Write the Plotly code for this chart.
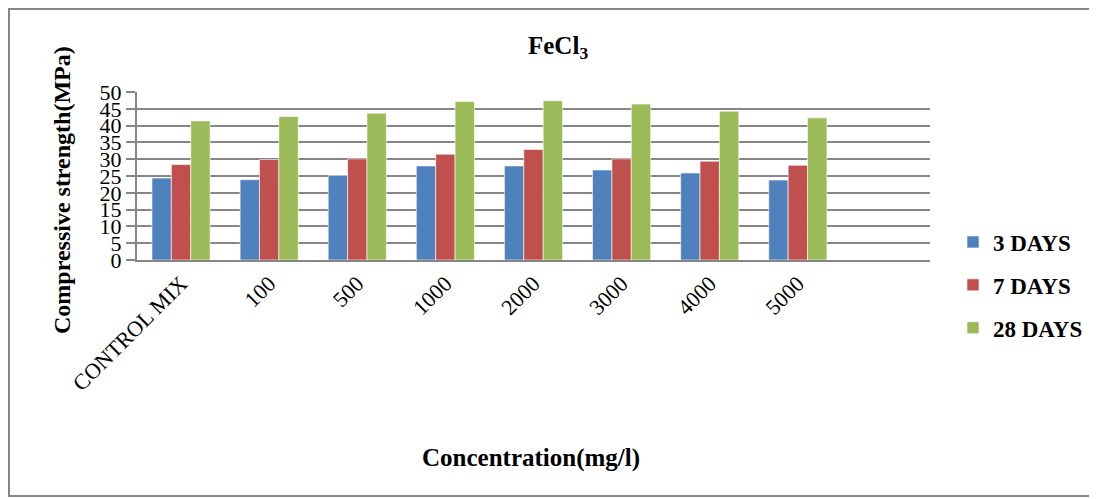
import plotly.graph_objects as go

categories = ["CONTROL MIX", "100", "500", "1000", "2000", "3000", "4000", "5000"]
days_3 = [24.4, 23.9, 25.2, 28.0, 28.0, 26.8, 25.9, 23.8]
days_7 = [28.4, 29.9, 30.1, 31.5, 32.9, 30.1, 29.4, 28.2]
days_28 = [41.4, 42.7, 43.7, 47.2, 47.4, 46.4, 44.3, 42.3]
series_names = ["3 DAYS", "7 DAYS", "28 DAYS"]
colors = ["#4F81BD", "#C0504D", "#9BBB59"]
y_ticks = [0, 5, 10, 15, 20, 25, 30, 35, 40, 45, 50]

SERIF = "Liberation Serif, Times New Roman, serif"
OFF = 8  # page body margin
W, H = 1097 - OFF, 499 - OFF
L, T = 137 - OFF, 92 - OFF
R, B = W - (930 - OFF), H - (260 - OFF)
PW, PH = W - L - R, H - T - B


# helpers: screen pixel -> paper coords
def px_x(x):
    return (x - OFF - L) / PW


def px_y(y):
    return (H - B - (y - OFF)) / PH


fig = go.Figure()
for name, vals, col in zip(series_names, [days_3, days_7, days_28], colors):
    fig.add_trace(go.Bar(
        x=categories, y=vals, name=name, legendgroup=name,
        marker=dict(color=col, line=dict(color="rgba(255,255,255,0.6)", width=1)),
    ))

fig.update_layout(
    width=W, height=H,
    margin=dict(l=L, r=R, t=T, b=B, autoexpand=False),
    paper_bgcolor="white", plot_bgcolor="white",
    barmode="group", bargap=0.34, bargroupgap=0,
    font=dict(family=SERIF, color="black"),
    legend=dict(x=px_x(953), xanchor="left", y=px_y(285), yanchor="middle",
                font=dict(size=23, family=SERIF, color="black", weight="bold"),
                tracegroupgap=10, itemwidth=30, bgcolor="rgba(0,0,0,0)"),
    showlegend=True,
)
fig.update_xaxes(
    type="category", range=[-0.5, 8.5], tickangle=-45, automargin=False,
    tickfont=dict(size=22, family=SERIF),
    showgrid=False, showline=True, linecolor="#868686", linewidth=2,
)
fig.update_yaxes(
    range=[0, 50], tickvals=y_ticks, ticktext=[str(v) for v in y_ticks], automargin=False,
    tickfont=dict(size=22, family=SERIF),
    showgrid=True, gridcolor="#868686", gridwidth=2,
    showline=True, linecolor="#868686", linewidth=2,
    ticks="outside", ticklen=9, tickcolor="#868686", tickwidth=2,
    zeroline=False,
)

# titles placed as annotations to match the reference positions
fig.add_annotation(text="<b>FeCl<sub>3</sub></b>", xref="paper", yref="paper",
                   x=px_x(558), y=px_y(47), xanchor="center", yanchor="middle",
                   showarrow=False, font=dict(size=25, family=SERIF))
fig.add_annotation(text="<b>Compressive strength(MPa)</b>", xref="paper", yref="paper",
                   x=px_x(62), y=px_y(190), xanchor="center", yanchor="middle",
                   showarrow=False, textangle=-90, font=dict(size=24, family=SERIF))
fig.add_annotation(text="<b>Concentration(mg/l)</b>", xref="paper", yref="paper",
                   x=px_x(531), y=px_y(458), xanchor="center", yanchor="middle",
                   showarrow=False, font=dict(size=25, family=SERIF))

# outer chart border
fig.add_shape(type="rect", xref="paper", yref="paper",
              x0=px_x(9), x1=px_x(1090), y0=px_y(496), y1=px_y(9),
              line=dict(color="#868686", width=2), fillcolor="rgba(0,0,0,0)", layer="below")

fig.write_html("out.html")
